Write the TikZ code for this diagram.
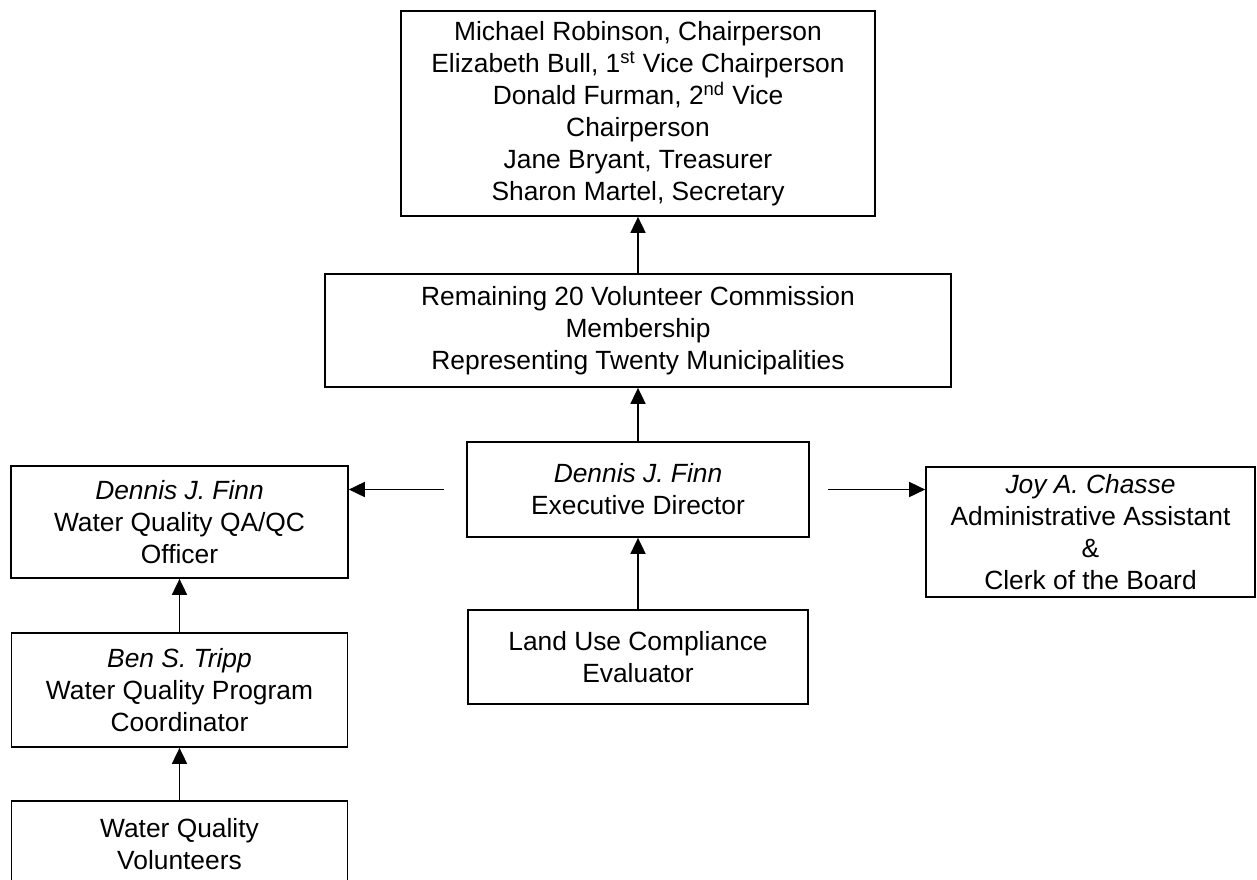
\documentclass[tikz,border=0pt]{standalone}
\usepackage{fontspec}
\setmainfont{Liberation Sans}
\usetikzlibrary{arrows.meta,calc}
\def\who#1{\textit{#1}}

\begin{document}
\begin{tikzpicture}[x=0.02cm,y=-0.02cm,
  box/.style={draw,line width=1pt,align=center,inner sep=0pt,
    font=\fontsize{15}{18.2}\selectfont},
  up/.style={line width=1pt,-{Triangle[length=0.32cm,width=0.3cm]}}]%<<<
\useasboundingbox (0,0) rectangle (1257,879);
\node[box,minimum width=9.48cm,minimum height=4.1cm] (board) at (638,113.5)
  {Michael Robinson, Chairperson\\
   Elizabeth Bull, 1\textsuperscript{st} Vice Chairperson\\
   Donald Furman, 2\textsuperscript{nd} Vice\\
   Chairperson\\
   Jane Bryant, Treasurer\\
   Sharon Martel, Secretary};
\node[box,minimum width=12.52cm,minimum height=2.26cm] (members) at (638,330.5)
  {Remaining 20 Volunteer Commission\\ Membership\\ Representing Twenty Municipalities};
\node[box,minimum width=6.84cm,minimum height=1.9cm] (director) at (638,489.5)
  {\who{Dennis J. Finn}\\ Executive Director};
\node[box,minimum width=6.74cm,minimum height=2.24cm] (qaqc) at (179.5,522)
  {\who{Dennis J. Finn}\\ Water Quality QA/QC\\ Officer};
\node[box,minimum width=6.58cm,minimum height=2.6cm] (clerk) at (1090.5,532)
  {\who{Joy A. Chasse}\\ Administrative Assistant\\ \&\\ Clerk of the Board};
\node[box,minimum width=6.8cm,minimum height=1.88cm] (landuse) at (638,657)
  {Land Use Compliance\\ Evaluator};
\node[box,minimum width=6.72cm,minimum height=2.28cm] (ben) at (179.5,690)
  {\who{Ben S. Tripp}\\ Water Quality Program\\ Coordinator};
\node[box,minimum width=6.72cm,minimum height=1.72cm] (vols) at (179.5,844)
  {Water Quality\\ Volunteers};

\coordinate (lft) at ($(director.west)+(-22,0)$);
\coordinate (rgt) at ($(director.east)+(18,0)$);
\draw[up] (director) -- (members);
\draw[up] (members) -- (board);
\draw[up] (landuse) -- (director);
\draw[up] (lft) -- (lft -| qaqc.east);
\draw[up] (rgt) -- (rgt -| clerk.west);
\draw[up] (ben) -- (qaqc);
\draw[up] (vols) -- (ben);
\end{tikzpicture}
\end{document}
